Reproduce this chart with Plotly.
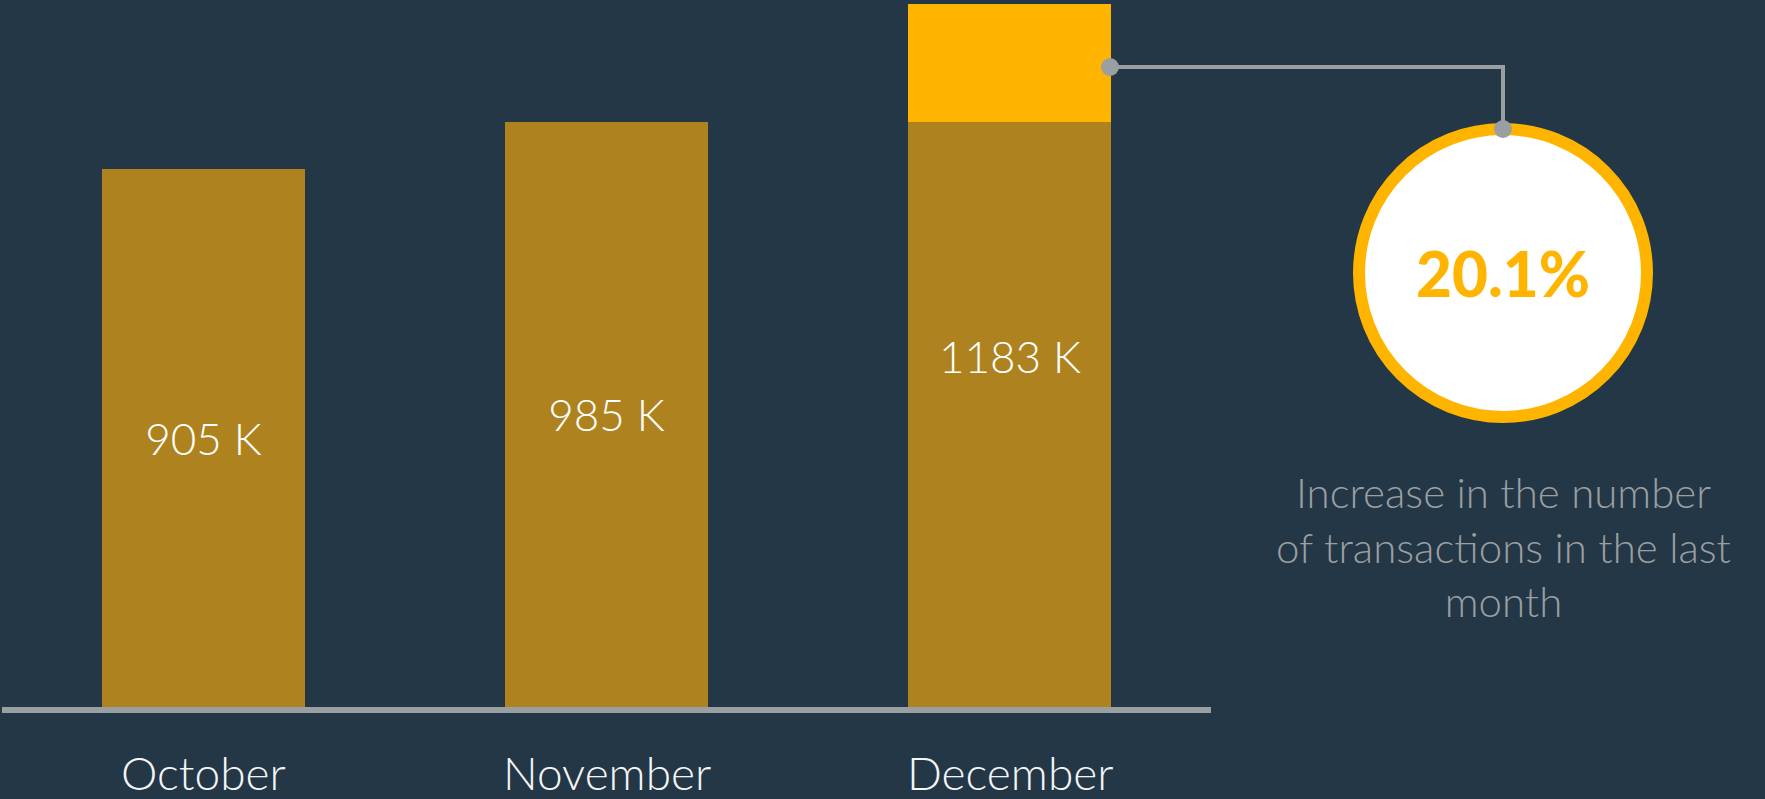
import plotly.graph_objects as go

# data
months = ["October", "November", "December"]
transactions_k = [905, 985, 1183]
increase_label = "20.1%"
note_lines = ["Increase in the number", "of transactions in the last", "month"]

BG = "#243746"
BROWN = "#ae831f"
YELLOW = "#ffb500"
GREY = "#9a9fa2"
FONT = "Lato"

W, H = 1765, 799
M_L, M_B = 2, 92
PLOT_W = 1209
PAPER_W, PAPER_H = W - M_L, H - M_B


def px(x):
    """pixel x -> paper x"""
    return (x - M_L) / PAPER_W


def py(y):
    """pixel y -> paper y"""
    return (PAPER_H - y) / PAPER_H


# december is drawn as last month's level plus the increase on top
base = transactions_k[:-1] + [transactions_k[-2]]
extra = [0] * (len(months) - 1) + [transactions_k[-1] - transactions_k[-2]]
base_text = [f"{v} K" for v in transactions_k[:-1]] + [""]

fig = go.Figure()
fig.add_trace(go.Bar(
    x=months, y=base, width=0.504, marker=dict(color=BROWN, line_width=0),
    text=base_text, textposition="inside", insidetextanchor="middle",
    textfont=dict(family=FONT, size=44, color="white", weight=300), textangle=0,
    hoverinfo="skip",
))
fig.add_trace(go.Bar(
    x=months, y=extra, width=0.504, marker=dict(color=YELLOW, line_width=0),
    hoverinfo="skip",
))

annotations = [
    dict(x=months[-1], y=transactions_k[-1] / 2, xref="x", yref="y",
         text=f"{transactions_k[-1]} K", showarrow=False,
         font=dict(family=FONT, size=44, color="white", weight=300)),
]
for m in months:
    annotations.append(dict(
        x=m, y=py(772), xref="x", yref="paper", text=m, showarrow=False,
        yanchor="middle",
        font=dict(family=FONT, size=46, color="#f4f5f6", weight=300),
    ))
annotations.append(dict(
    x=px(1503), y=py(273), xref="paper", yref="paper", text=increase_label,
    showarrow=False, xanchor="center", yanchor="middle",
    font=dict(family=FONT, size=62, color=YELLOW, weight=900),
))
annotations.append(dict(
    x=px(1503), y=py(546), xref="paper", yref="paper",
    text="<br>".join(note_lines), showarrow=False, align="center",
    xanchor="center", yanchor="middle",
    font=dict(family=FONT, size=42, color=GREY, weight=300),
))

r = 144
dot = 9
shapes = [
    # baseline
    dict(type="line", xref="paper", yref="paper", x0=0, x1=px(1211),
         y0=py(710), y1=py(710), line=dict(color=GREY, width=6)),
    # ring
    dict(type="circle", xref="paper", yref="paper",
         x0=px(1503 - r), x1=px(1503 + r), y0=py(273 + r), y1=py(273 - r),
         fillcolor="white", line=dict(color=YELLOW, width=12)),
    # connector
    dict(type="path", xref="paper", yref="paper",
         path=f"M {px(1110)},{py(67)} L {px(1503)},{py(67)} L {px(1503)},{py(129)}",
         line=dict(color=GREY, width=4)),
]
for cx, cy in [(1110, 67), (1503, 129)]:
    shapes.append(dict(type="circle", xref="paper", yref="paper",
                       x0=px(cx - dot), x1=px(cx + dot),
                       y0=py(cy + dot), y1=py(cy - dot),
                       fillcolor=GREY, line_width=0))

fig.update_layout(
    width=W, height=H, barmode="stack", showlegend=False,
    paper_bgcolor=BG, plot_bgcolor=BG,
    margin=dict(l=M_L, r=0, t=0, b=M_B),
    xaxis=dict(domain=[0, PLOT_W / PAPER_W], range=[-0.5, 2.5],
               showticklabels=False, showgrid=False, zeroline=False,
               showline=False, ticks=""),
    yaxis=dict(range=[0, 1190], visible=False, showgrid=False),
    annotations=annotations, shapes=shapes,
    uniformtext=dict(mode="show", minsize=10),
)

# drop the page's default body margin so the figure fills the window
fig.write_html(
    "out.html",
    config={"displayModeBar": False},
    post_script="document.body.style.margin='0';document.body.style.background='%s';" % BG,
)
